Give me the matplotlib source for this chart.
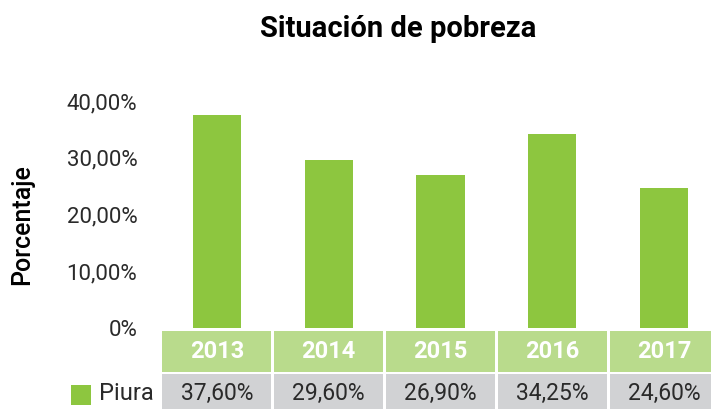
import matplotlib
matplotlib.use("Agg")
import matplotlib.pyplot as plt
from matplotlib.patches import Rectangle
from matplotlib.transforms import blended_transform_factory

years = ["2013", "2014", "2015", "2016", "2017"]
values = [37.60, 29.60, 26.90, 34.25, 24.60]
value_labels = ["37,60%", "29,60%", "26,90%", "34,25%", "24,60%"]
yticks = [0, 10, 20, 30, 40]
ytick_labels = ["0%", "10,00%", "20,00%", "30,00%", "40,00%"]
series_name = "Piura"
title = "Situación de pobreza"
ylabel = "Porcentaje"

plt.rcParams['font.family'] = ['Roboto', 'DejaVu Sans']

W, H = 711, 409
fig = plt.figure(figsize=(W/100, H/100), dpi=100)
ax = fig.add_axes([161/W, (H-328)/H, (720-161)/W, (328-101)/H])

bar_color = "#8DC63F"
head_color = "#B9DB8C"
gray_color = "#D1D2D4"
text_color = "#2A2A2A"

x = list(range(len(years)))
ax.bar(x, values, width=0.43, color=bar_color)
ax.set_xlim(-0.5, len(years)-0.5)
ax.set_ylim(0, 40)
ax.set_yticks(yticks)
ax.set_yticklabels(ytick_labels, fontsize=16, color=text_color)
ax.tick_params(axis='y', length=0, pad=17)
ax.set_xticks([])
for s in ax.spines.values():
    s.set_visible(False)

trans = blended_transform_factory(ax.transData, fig.transFigure)
gap = 0.012
for i, (yr, lab) in enumerate(zip(years, value_labels)):
    ax.add_patch(Rectangle((i-0.5+gap, (H-372)/H), 1-2*gap, 41/H, transform=trans,
                           facecolor=head_color, edgecolor='none', clip_on=False))
    ax.add_patch(Rectangle((i-0.5+gap, (H-412)/H), 1-2*gap, 38/H, transform=trans,
                           facecolor=gray_color, edgecolor='none', clip_on=False))
    ax.text(i, (H-351)/H, yr, transform=trans, ha='center', va='center',
            fontsize=17, fontweight='bold', color='white')
    ax.text(i, (H-393)/H, lab, transform=trans, ha='center', va='center',
            fontsize=16.5, color=text_color)

fig.patches.append(Rectangle((71/W, (H-405)/H), 20/W, 20/H, transform=fig.transFigure,
                             facecolor=bar_color, edgecolor='none'))
fig.text(99/W, (H-394)/H, series_name, ha='left', va='center', fontsize=17, color=text_color)

fig.text(398/W, (H-29)/H, title, ha='center', va='center', fontsize=21, fontweight='bold', color='black')
fig.text(22/W, (H-225)/H, ylabel, ha='center', va='center', rotation=90, fontsize=18,
         fontweight='medium', color='black')

fig.savefig("out.png", dpi=100)
